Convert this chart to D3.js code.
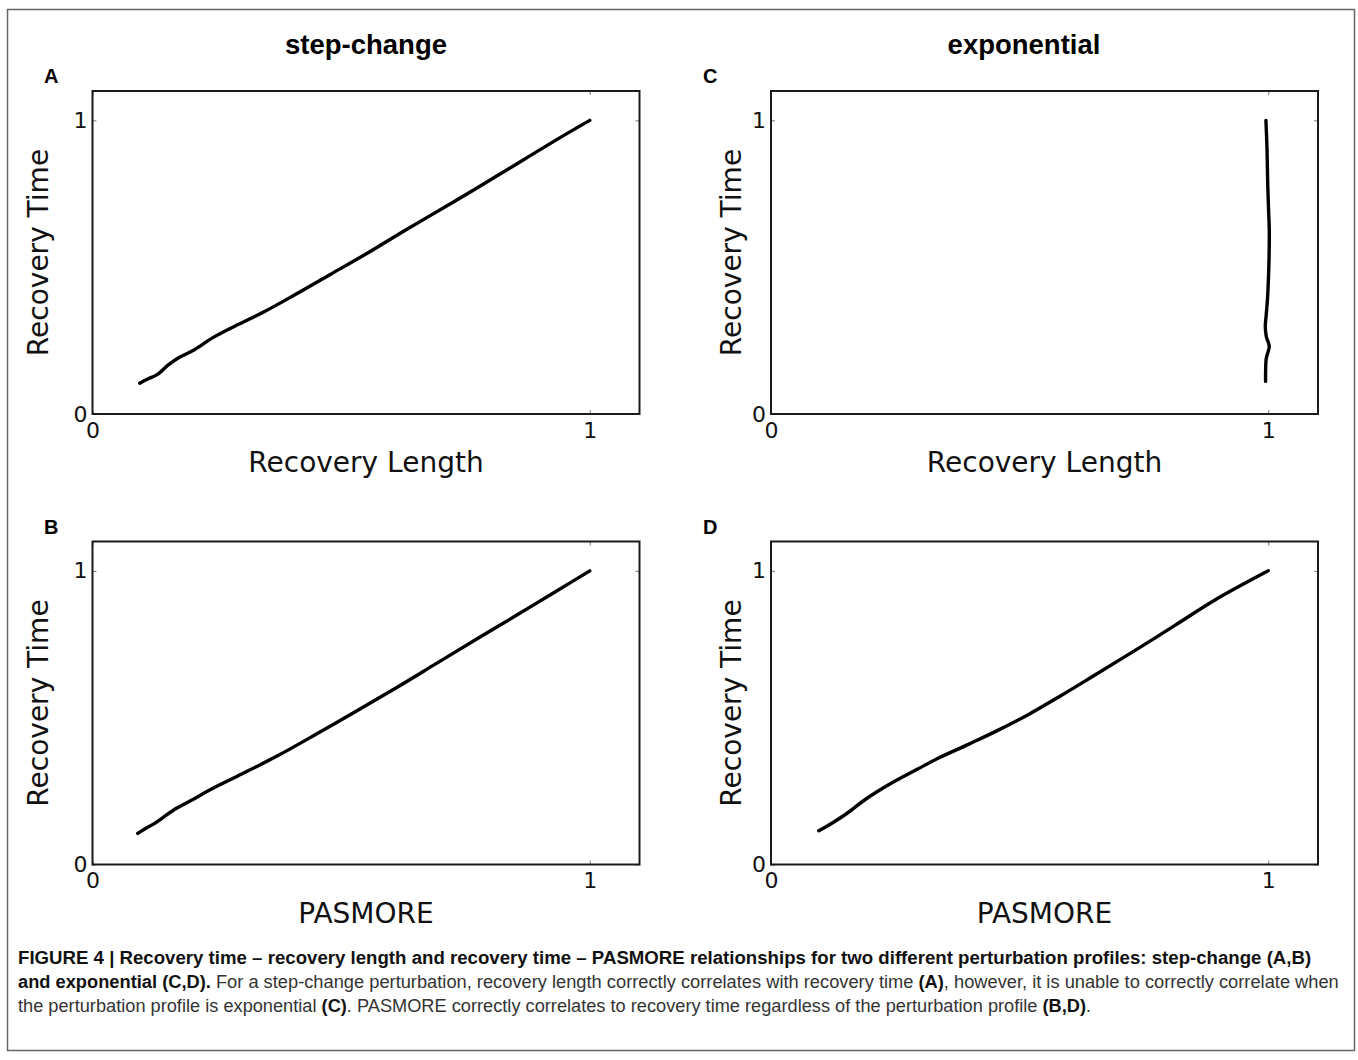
<!DOCTYPE html>
<html>
<head>
<meta charset="utf-8">
<script src="https://cdn.jsdelivr.net/npm/d3@7"></script>
<style>
body { margin: 0; background: #fff; }
svg { display: block; }
</style>
</head>
<body>
<svg id="fig"></svg>
<script>
// values (normalised recovery time vs. metric)
const columnTitles = ['step-change', 'exponential']
const panelLetters = ['A', 'C', 'B', 'D']
const xLabels = ['Recovery Length', 'Recovery Length', 'PASMORE', 'PASMORE']
const yLabel = 'Recovery Time'
const tickValues = [0, 1]
const tickLabels = ['0', '1']

const stepLengthX = [0.095, 0.112, 0.130, 0.153, 0.175, 0.205, 0.242, 0.287, 0.346, 0.406, 0.480, 0.555, 0.629, 0.719, 0.793, 0.867, 0.942, 1.0]
const stepLengthY = [0.105, 0.120, 0.134, 0.168, 0.193, 0.219, 0.260, 0.300, 0.349, 0.405, 0.477, 0.550, 0.626, 0.715, 0.790, 0.866, 0.943, 1.0]

const expLengthX = [0.9953, 0.9975, 0.9987, 1.0005, 1.002, 1.0013, 0.9987, 0.9960, 0.9940, 0.9960, 1.002, 0.9960, 0.9946, 0.9946]
const expLengthY = [1.0, 0.900, 0.796, 0.700, 0.626, 0.513, 0.400, 0.340, 0.298, 0.264, 0.230, 0.190, 0.139, 0.111]

const stepPasmoreX = [0.091, 0.105, 0.125, 0.161, 0.197, 0.245, 0.300, 0.372, 0.452, 0.531, 0.611, 0.691, 0.771, 0.850, 0.930, 1.0]
const stepPasmoreY = [0.106, 0.121, 0.140, 0.183, 0.217, 0.262, 0.308, 0.370, 0.446, 0.523, 0.602, 0.684, 0.766, 0.846, 0.928, 1.0]

const expPasmoreX = [0.096, 0.120, 0.151, 0.191, 0.239, 0.295, 0.335, 0.398, 0.454, 0.518, 0.582, 0.653, 0.733, 0.813, 0.892, 1.0]
const expPasmoreY = [0.115, 0.138, 0.172, 0.223, 0.274, 0.325, 0.361, 0.410, 0.455, 0.511, 0.574, 0.647, 0.730, 0.815, 0.900, 1.0]

const captionLines = [
  [['FIGURE 4 | Recovery time \u2013 recovery length and recovery time \u2013 PASMORE relationships for two different perturbation profiles: step-change (A,B)', true]],
  [['and exponential (C,D).', true], [' For a step-change perturbation, recovery length correctly correlates with recovery time ', false], ['(A)', true], [', however, it is unable to correctly correlate when', false]],
  [['the perturbation profile is exponential ', false], ['(C)', true], ['. PASMORE correctly correlates to recovery time regardless of the perturbation profile ', false], ['(B,D)', true], ['.', false]]
]

const W = 1358
const H = 1060

const svg = d3.select('#fig')
  .attr('width', W)
  .attr('height', H)
  .style('font-family', 'DejaVu Sans, sans-serif')

// outer frame
svg.append('rect')
  .attr('x', 7.5).attr('y', 9.5)
  .attr('width', 1347).attr('height', 1041)
  .attr('fill', 'none')
  .attr('stroke', '#666')
  .attr('stroke-width', 1.5)

const pw = 547
const ph = 323
const panels = [
  {left: 92.5, top: 91, xs: stepLengthX, ys: stepLengthY, lx: 44, ylab: 48},
  {left: 771, top: 91, xs: expLengthX, ys: expLengthY, lx: 703, ylab: 741},
  {left: 92.5, top: 541.5, xs: stepPasmoreX, ys: stepPasmoreY, lx: 44, ylab: 48},
  {left: 771, top: 541.5, xs: expPasmoreX, ys: expPasmoreY, lx: 703, ylab: 741}
]

const x = d3.scaleLinear().domain([0, 1.1]).range([0, pw])
const y = d3.scaleLinear().domain([0, 1.1]).range([ph, 0])

const line = d3.line()
  .x(d => x(d[0]))
  .y(d => y(d[1]))
  .curve(d3.curveCatmullRom.alpha(0.5))

panels.forEach((p, i) => {
  const g = svg.append('g').attr('transform', `translate(${p.left},${p.top})`)

  const fmt = d => tickLabels[tickValues.indexOf(d)]

  g.append('g')
    .attr('transform', `translate(0,${ph})`)
    .call(d3.axisBottom(x).tickValues(tickValues).tickSize(-4).tickPadding(8).tickFormat(fmt))
  g.append('g')
    .call(d3.axisLeft(y).tickValues(tickValues).tickSize(-4).tickPadding(5).tickFormat(fmt))
  g.append('g')
    .call(d3.axisTop(x).tickValues(tickValues).tickSize(-4).tickFormat(''))
  g.append('g')
    .attr('transform', `translate(${pw},0)`)
    .call(d3.axisRight(y).tickValues(tickValues).tickSize(-4).tickFormat(''))

  g.selectAll('.domain').remove()
  g.selectAll('.tick line').attr('stroke', '#777').attr('stroke-width', 1)
  g.selectAll('.tick text')
    .attr('font-family', 'DejaVu Sans')
    .attr('font-size', 22)
    .attr('fill', '#111')

  g.append('rect')
    .attr('width', pw).attr('height', ph)
    .attr('fill', 'none')
    .attr('stroke', '#1a1a1a')
    .attr('stroke-width', 2)

  g.append('path')
    .datum(p.xs.map((v, k) => [v, p.ys[k]]))
    .attr('d', line)
    .attr('fill', 'none')
    .attr('stroke', '#000')
    .attr('stroke-width', 3.4)
    .attr('stroke-linecap', 'round')
    .attr('stroke-linejoin', 'round')

  // axis labels
  svg.append('text')
    .attr('x', p.left + pw / 2)
    .attr('y', p.top + ph + 58)
    .attr('text-anchor', 'middle')
    .attr('font-size', 28)
    .attr('fill', '#111')
    .text(xLabels[i])

  svg.append('text')
    .attr('transform', `translate(${p.ylab},${p.top + ph / 2}) rotate(-90)`)
    .attr('text-anchor', 'middle')
    .attr('font-size', 28)
    .attr('fill', '#111')
    .text(yLabel)

  svg.append('text')
    .attr('x', p.lx)
    .attr('y', p.top - 8)
    .attr('font-family', 'Liberation Sans, Arial, sans-serif')
    .attr('font-weight', 'bold')
    .attr('font-size', 20)
    .text(panelLetters[i])
})

svg.selectAll('.colTitle')
  .data(columnTitles)
  .enter()
  .append('text')
  .attr('class', 'colTitle')
  .attr('x', (d, i) => i === 0 ? 366 : 1024)
  .attr('y', 54)
  .attr('text-anchor', 'middle')
  .attr('font-family', 'Liberation Sans, Arial, sans-serif')
  .attr('font-weight', 'bold')
  .attr('font-size', 27.5)
  .text(d => d)

// caption, each line squeezed to the width it has in the figure
const capEnds = [1312, 1340, 1092]
captionLines.forEach((segs, i) => {
  const t = svg.append('text')
    .attr('font-family', 'Liberation Sans, Arial, sans-serif')
    .attr('font-size', 18.5)
    .attr('fill', '#231f20')
  segs.forEach(s => {
    t.append('tspan')
      .attr('font-weight', s[1] ? 'bold' : 'normal')
      .attr('fill', s[1] ? '#111' : '#333')
      .text(s[0])
  })
  const len = t.node().getComputedTextLength()
  const k = (capEnds[i] - 18) / len
  t.attr('transform', `translate(18,${964 + i * 24}) scale(${k},1)`)
})
</script>
</body>
</html>
